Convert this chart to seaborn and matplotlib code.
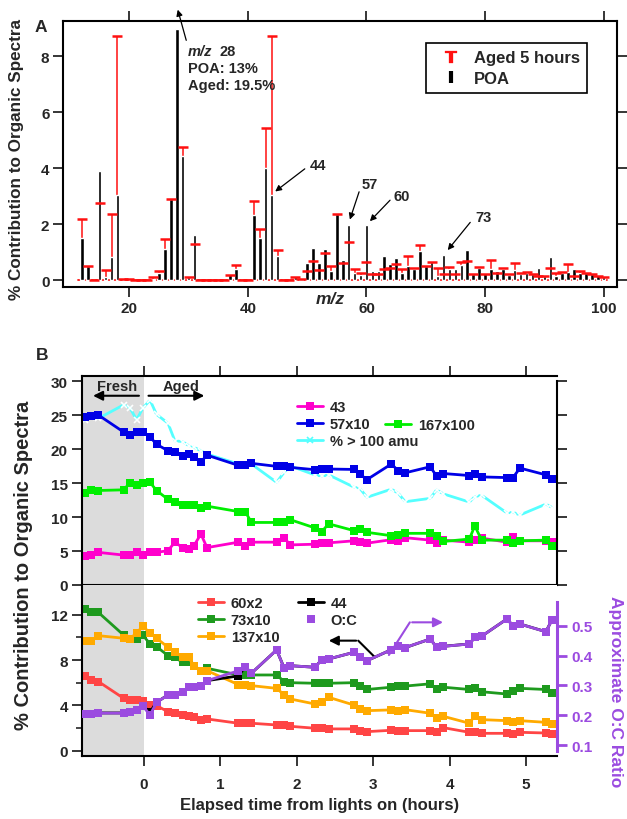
import numpy as np
import matplotlib
matplotlib.use('Agg')
import matplotlib.pyplot as plt
import seaborn as sns
from matplotlib.lines import Line2D

sns.set_theme(style='ticks')
plt.rcParams['font.family'] = ['Liberation Sans', 'DejaVu Sans']
plt.rcParams['font.weight'] = 'bold'
plt.rcParams['axes.labelweight'] = 'bold'

# ---------------- data: panel A (mass spectrum) ----------------
mz = list(range(12, 101))
poa = [1.5, 0.5, 0, 3.9, 0.1, 0.83, 3.04, 0, 0, 0, 0, 0, 0.05, 0.25, 1.1, 2.91, 8.96, 4.44, 0.1, 1.6,
       0, 0, 0, 0, 0, 0.21, 0.39, 0, 0, 2.32, 1.52, 4.0, 3.05, 0.87, 0, 0, 0.15, 0.05, 0.63, 1.14,
       0.61, 1.1, 0.33, 2.36, 0.73, 1.98, 0.27, 0.18, 1.98, 0.33, 0.33, 0.85, 0.57, 0.81, 0.27, 0.5,
       0.42, 1.03, 0.52, 0.64, 0.14, 0.89, 0.42, 0.39, 0.54, 1.08, 0.21, 0.45, 0.27, 0.39, 0.33, 0.39,
       0.18, 0.37, 0.21, 0.27, 0.21, 0.45, 0.15, 0.82, 0.15, 0.27, 0.3, 0.39, 0.27, 0.27, 0.21, 0.18, 0.1]
aged = [2.18, 0.5, 0, 2.75, 0.37, 2.36, 8.73, 0.05, 0.05, 0, 0, 0, 0.13, 0.33, 1.46, 2.91, np.nan, 4.76, 0.13, 1.29,
        0, 0, 0, 0, 0, 0.2, 0.55, 0, 0, 2.83, 1.82, 5.45, 8.73, 1.08, 0, 0, 0.1, 0.05, 0.33, 0.69,
        0.37, 0.99, 0.51, 2.36, 0.63, 1.37, 0.39, 0.25, 0.65, 0.21, 0.21, 0.39, 0.45, 0.57, 0.4, 0.87,
        0.45, 1.27, 0.5, 0.65, 0.45, 0.21, 0.48, 0.21, 0.65, 0.69, 0.21, 0.48, 0.21, 0.71, 0.27, 0.45,
        0.21, 0.6, 0.27, 0.3, 0.21, 0.15, 0.15, 0.45, 0.27, 0.3, 0.57, 0.15, 0.33, 0.25, 0.24, 0.15, 0.1]

# ---------------- data: panel B (time series) ----------------
t = [-0.77, -0.68, -0.59, -0.26, -0.18, -0.09, -0.01, 0.085, 0.17, 0.32, 0.41, 0.51, 0.59, 0.66,
     0.75, 0.83, 1.24, 1.33, 1.41, 1.74, 1.84, 1.92, 2.24, 2.33, 2.42, 2.75, 2.83, 2.92, 3.24, 3.33,
     3.42, 3.75, 3.83, 3.92, 4.26, 4.33, 4.42, 4.75, 4.83, 4.92, 5.26, 5.34]
m43 = [4.3, 4.4, 4.8, 4.4, 4.4, 4.8, 4.4, 4.8, 4.8, 5.05, 6.3, 5.5, 5.3, 5.8, 7.5, 5.5, 6.3, 5.8, 6.3,
       6.3, 6.9, 5.9, 6.0, 6.15, 6.2, 6.5, 6.3, 6.15, 6.67, 6.5, 6.96, 6.6, 6.15, 6.6, 6.3, 6.67, 6.9,
       6.3, 7.1, 6.5, 6.5, 6.3]
m57x10 = [24.7, 24.9, 25.0, 22.5, 22.0, 22.5, 22.5, 21.8, 20.7, 19.75, 19.5, 19.0, 19.26, 18.8, 18.1,
          19.1, 17.6, 17.6, 17.9, 17.45, 17.55, 17.3, 16.96, 17.06, 17.06, 17.0, 16.3, 15.5, 17.8, 16.8,
          16.5, 17.4, 16.0, 16.4, 16.1, 16.4, 15.9, 15.8, 15.8, 17.2, 16.2, 15.6]
m167x100 = [13.5, 14.0, 13.9, 14.0, 15.0, 14.7, 15.0, 15.1, 13.9, 12.6, 12.25, 11.8, 11.8, 11.8, 11.4,
            11.6, 10.8, 10.8, 9.2, 9.2, 9.2, 9.6, 8.4, 7.85, 9.0, 8.0, 8.3, 7.75, 7.25, 7.4, 7.6, 7.6,
            7.25, 6.4, 6.76, 8.7, 6.6, 6.6, 6.2, 6.5, 6.6, 5.8]
gt100 = [24.2, 24.65, 24.5, 26.5, 26.1, 24.3, 26.0, 27.2, 25.1, 23.8, 21.2, 21.1, 20.5, 20.25, 19.75,
         19.26, 17.8, 17.9, 17.8, 15.1, 16.6, 17.5, 16.2, 16.0, 16.2, 14.4, 14.2, 12.9, 14.1, 13.5,
         12.25, 12.75, 14.0, 13.4, 12.2, 13.0, 13.2, 10.6, 10.7, 10.3, 11.9, 11.4]
m60x2 = [6.57, 6.27, 6.1, 4.62, 4.5, 4.5, 4.41, 4.03, 3.97, 3.44, 3.33, 3.18, 3.09, 3.0, 2.74, 2.8,
         2.42, 2.42, 2.42, 2.27, 2.27, 2.15, 1.98, 2.03, 1.92, 1.92, 1.77, 1.68, 1.8, 1.77, 1.77, 1.77,
         1.62, 2.03, 1.62, 1.62, 1.53, 1.53, 1.47, 1.62, 1.56, 1.47]
m73x10 = [12.5, 12.2, 12.2, 10.2, 9.86, 9.86, 10.2, 9.42, 9.18, 8.39, 8.24, 7.8, 7.86, 7.5, 7.06, 7.27,
          6.68, 6.68, 6.68, 6.68, 6.09, 6.0, 5.95, 5.95, 5.95, 6.0, 5.7, 5.4, 5.6, 5.7, 5.7, 5.9, 5.4,
          5.6, 5.4, 5.55, 5.2, 5.0, 5.3, 5.5, 5.4, 5.1]
m137x10 = [9.7, 9.7, 10.15, 9.92, 9.86, 10.39, 10.98, 10.39, 9.92, 9.13, 8.74, 8.24, 8.24, 7.5, 7.06,
           7.06, 5.83, 5.83, 5.74, 5.5, 4.92, 4.56, 4.12, 4.27, 4.71, 4.03, 3.68, 3.53, 3.6, 3.53, 3.62,
           3.3, 2.86, 3.03, 2.42, 3.09, 2.74, 2.65, 2.5, 2.65, 2.5, 2.36]
m44 = [3.24, 3.24, 3.33, 3.33, 3.44, 3.59, 3.97, 3.4, 4.27, 4.92, 4.92, 5.21, 5.6, 5.6, 5.68, 6.18,
       6.6, 7.41, 6.83, 8.89, 7.27, 7.5, 7.36, 8.03, 8.09, 8.68, 8.24, 7.94, 8.91, 9.21, 9.09, 9.86,
       9.12, 9.21, 9.42, 10.0, 10.1, 11.62, 11.03, 11.18, 10.5, 11.56]
oc = [0.204, 0.204, 0.207, 0.207, 0.212, 0.217, 0.232, 0.2, 0.243, 0.268, 0.268, 0.279, 0.294, 0.294,
      0.297, 0.316, 0.349, 0.363, 0.341, 0.419, 0.357, 0.366, 0.361, 0.386, 0.389, 0.411, 0.394,
      0.383, 0.42, 0.431, 0.427, 0.456, 0.428, 0.431, 0.439, 0.461, 0.465, 0.523, 0.5, 0.506, 0.48, 0.52]

# ---------------- figure ----------------
W, H = 627, 820
fig = plt.figure(figsize=(W / 100, H / 100), dpi=100)


def fx(px):
    return px / W


def fy(py):
    return 1 - py / H


def box(l, t_, r, b):
    return [fx(l), fy(b), fx(r) - fx(l), fy(t_) - fy(b)]


RED = '#ff1010'
FS_TICK = 11

# ---------------- Panel A ----------------
axA = fig.add_axes(box(63.3, 21.7, 616.7, 288.3))
axA.set_facecolor('white')
axA.plot([11.4, 100.6], [0, 0], color=RED, lw=1.3, zorder=2)
axA.vlines(mz, 0, aged, color=RED, lw=1.1, zorder=2)
axA.bar(mz, poa, width=0.6, color='black', zorder=3)
axA.plot(mz, aged, ls='none', marker='_', ms=7, mew=1.8, color=RED, zorder=4)
axA.set_xlim(8.87, 102.2)
axA.set_ylim(-0.25, 9.26)
axA.set_xticks([20, 40, 60, 80, 100])
axA.set_yticks([0, 2, 4, 6, 8])
axA.tick_params(direction='out', length=7, width=1.3, top=True, right=True,
                labeltop=False, labelright=False, labelsize=FS_TICK, pad=3)
for s in axA.spines.values():
    s.set_linewidth(1.5)
    s.set_color('black')

# legend A
hA1 = Line2D([], [], ls='none', marker='$\\mathrm{T}$', color=RED, ms=9, mew=0.2)
hA2 = Line2D([], [], ls='none', marker='|', color='black', ms=8, mew=3)
legA = axA.legend([hA1, hA2], ['Aged 5 hours', 'POA'], loc='upper left',
                  bbox_to_anchor=(fx(426), fy(44)), bbox_transform=fig.transFigure,
                  frameon=True, fancybox=False, edgecolor='black', framealpha=1,
                  fontsize=12, handlelength=2.1, handletextpad=0.3, borderpad=0.45,
                  labelspacing=0.3, borderaxespad=0)
legA.get_frame().set_linewidth(1.2)


def mzc(px):
    return 20 + (px - 129.3) / 5.93


def vA(py):
    return (281 - py) / 28


arrowA = dict(arrowstyle='-|>', color='black', lw=0.9, mutation_scale=9)
axA.annotate('', xy=(mzc(177), vA(8)), xytext=(mzc(187), vA(44)), arrowprops=arrowA,
             annotation_clip=False)
axA.text(mzc(188), vA(52), 'm/z', style='italic', fontsize=10.5, va='center', ha='left')
axA.text(mzc(220), vA(52), '28', fontsize=10.5, va='center', ha='left')
axA.text(mzc(188), vA(69), 'POA: 13%', fontsize=10.5, va='center', ha='left')
axA.text(mzc(188), vA(86), 'Aged: 19.5%', fontsize=10.5, va='center', ha='left')
for lab, tx, ty, ax0, ay0, ax1, ay1 in [('44', 310, 166, 307, 168, 273, 194),
                                         ('57', 362, 185, 360, 190, 349, 223),
                                         ('60', 394, 197, 392, 199, 368, 224),
                                         ('73', 475, 218, 472, 221, 446, 253)]:
    axA.annotate('', xy=(mzc(ax1), vA(ay1)), xytext=(mzc(ax0), vA(ay0)), arrowprops=arrowA)
    axA.text(mzc(tx), vA(ty), lab, fontsize=10.5, va='center', ha='left')

fig.text(fx(330), fy(299), 'm/z', style='italic', fontsize=12.5, ha='center', va='center')
fig.text(fx(17), fy(160), '% Contribution to Organic Spectra', rotation=90, fontsize=12.3,
         ha='center', va='center')
fig.text(fx(35), fy(28), 'A', fontsize=12.5, ha='left', va='center')
fig.text(fx(36), fy(356), 'B', fontsize=12.5, ha='left', va='center')

# ---------------- Panel B top ----------------
XMIN, XMAX = -0.808, 5.405
axT = fig.add_axes(box(81.7, 377.3, 557, 586))
axT.axvspan(XMIN, 0, color='#dcdcdc', lw=0, zorder=0)
line_kw = dict(estimator=None, sort=False, legend=False, linewidth=2, markersize=5.5)
sns.lineplot(x=t, y=m43, ax=axT, color='#ff00cc', marker='s', markeredgewidth=0, **line_kw)
sns.lineplot(x=t, y=m167x100, ax=axT, color='#00ee00', marker='s', markeredgewidth=0, **line_kw)
sns.lineplot(x=t, y=gt100, ax=axT, color='#55ffff', marker='x', markeredgewidth=1.2,
             estimator=None, sort=False, legend=False, linewidth=2, markersize=4)
sns.lineplot(x=t, y=m57x10, ax=axT, color='#0000e6', marker='s', markeredgewidth=0, **line_kw)
axT.set_xlim(XMIN, XMAX)
axT.set_ylim(0, 30.7)
axT.set_yticks([0, 5, 10, 15, 20, 25, 30])
axT.set_xticks([0, 1, 2, 3, 4, 5])
axT.tick_params(direction='out', length=7, width=1.3, top=True, right=True, bottom=True,
                labeltop=False, labelright=False, labelbottom=False, labelsize=FS_TICK, pad=3)
axT.set_xlabel('')
axT.set_ylabel('')
for s in axT.spines.values():
    s.set_linewidth(1.5)
    s.set_color('black')
axT.spines['right'].set_bounds(0, 30)


def tB(px):
    return (px - 143.3) / 76.6


def vT(py):
    return (586 - py) / 6.8


arrowB = dict(arrowstyle='-|>', color='black', lw=1.5, mutation_scale=14)
axT.annotate('', xy=(tB(90), vT(396.7)), xytext=(tB(141.5), vT(396.7)), arrowprops=arrowB)
axT.annotate('', xy=(tB(207), vT(396.7)), xytext=(tB(145.5), vT(396.7)), arrowprops=arrowB)
axT.text(tB(117), vT(386.5), 'Fresh', fontsize=10.5, ha='center', va='center')
axT.text(tB(181), vT(386.5), 'Aged', fontsize=10.5, ha='center', va='center')

leg_kw = dict(frameon=False, fontsize=10.5, handlelength=1.8, handletextpad=0.45, borderpad=0,
              labelspacing=0.2, borderaxespad=0, loc='upper left', bbox_transform=fig.transFigure)
hT = [Line2D([], [], color='#ff00cc', lw=2, marker='s', ms=6, mew=0),
      Line2D([], [], color='#0000e6', lw=2, marker='s', ms=6, mew=0),
      Line2D([], [], color='#55ffff', lw=2, marker='x', ms=5, mew=1.2)]
leg1 = axT.legend(hT, ['43', '57x10', '% > 100 amu'], bbox_to_anchor=(fx(296.7), fy(401.5)), **leg_kw)
axT.add_artist(leg1)
hT2 = [Line2D([], [], color='#00ee00', lw=2, marker='s', ms=6, mew=0)]
axT.legend(hT2, ['167x100'], bbox_to_anchor=(fx(385), fy(419.5)), **leg_kw)

# ---------------- Panel B bottom ----------------
axB = fig.add_axes(box(81.7, 586, 557, 757))
axB.axvspan(XMIN, 0, color='#dcdcdc', lw=0, zorder=0)
sns.lineplot(x=t, y=m60x2, ax=axB, color='#ff4545', marker='s', markeredgewidth=0, **line_kw)
sns.lineplot(x=t, y=m73x10, ax=axB, color='#1e9a1e', marker='s', markeredgewidth=0, **line_kw)
sns.lineplot(x=t, y=m137x10, ax=axB, color='#ffaa00', marker='s', markeredgewidth=0, **line_kw)
sns.lineplot(x=t, y=m44, ax=axB, color='black', marker='s', markeredgewidth=0, **line_kw)
axB.set_xlim(XMIN, XMAX)
axB.set_ylim(-0.47, 14.62)
axB.set_yticks([0, 4, 8, 12])
axB.set_yticks([2, 6, 10], minor=True)
axB.set_xticks([0, 1, 2, 3, 4, 5])
axB.tick_params(direction='out', length=7, width=1.3, labelsize=FS_TICK, pad=3)
axB.tick_params(axis='x', pad=8)
axB.tick_params(which='minor', direction='out', length=4, width=1.2, left=True)
axB.set_xlabel('')
axB.set_ylabel('')
axB.spines['top'].set_visible(False)
axB.spines['right'].set_visible(False)
for k in ['left', 'bottom']:
    axB.spines[k].set_linewidth(1.5)
    axB.spines[k].set_color('black')

PURPLE = '#9b4be0'
axR = axB.twinx()
sns.lineplot(x=t, y=oc, ax=axR, color=PURPLE, marker='s', markeredgewidth=0, **line_kw)
axR.set_ylim(0.0631, 0.637)
axR.set_yticks([0.1, 0.2, 0.3, 0.4, 0.5])
axR.set_yticklabels(['0.1', '0.2', '0.3', '0.4', '0.5'])
axR.tick_params(axis='y', direction='out', length=7, width=2, colors=PURPLE,
                labelsize=FS_TICK, pad=3)
axR.set_ylabel('')
for k in ['left', 'bottom', 'top']:
    axR.spines[k].set_visible(False)
axR.spines['right'].set_color(PURPLE)
axR.spines['right'].set_linewidth(2.2)
axR.spines['right'].set_bounds(0.08, 0.58)
axR.grid(False)


def vB(py):
    return (751.7 - py) / 11.33


def ocB(py):
    return 0.1 + (746 - py) / 298


# black arrow (44 -> left axis)
axB.plot([tB(375), tB(358.3)], [vB(658.3), vB(641.7)], color='black', lw=1.5)
axB.annotate('', xy=(tB(326), vB(641.7)), xytext=(tB(359), vB(641.7)), arrowprops=arrowB)
# purple arrow (O:C -> right axis)
axR.plot([tB(389), tB(410)], [ocB(656), ocB(623.3)], color=PURPLE, lw=1.5)
axR.annotate('', xy=(tB(446), ocB(623.3)), xytext=(tB(409.5), ocB(623.3)),
             arrowprops=dict(arrowstyle='-|>', color=PURPLE, lw=1.5, mutation_scale=14))

hB1 = [Line2D([], [], color='#ff4545', lw=2, marker='s', ms=6, mew=0),
       Line2D([], [], color='#1e9a1e', lw=2, marker='s', ms=6, mew=0),
       Line2D([], [], color='#ffaa00', lw=2, marker='s', ms=6, mew=0)]
leg3 = axR.legend(hB1, ['60x2', '73x10', '137x10'], bbox_to_anchor=(fx(198), fy(597.5)), **leg_kw)
axR.add_artist(leg3)
hB2 = [Line2D([], [], color='black', lw=2, marker='s', ms=6, mew=0),
       Line2D([], [], color=PURPLE, lw=0, marker='s', ms=6, mew=0)]
axR.legend(hB2, ['44', 'O:C'], bbox_to_anchor=(fx(298), fy(597.5)), **leg_kw)

fig.text(fx(320), fy(806), 'Elapsed time from lights on (hours)', fontsize=12, ha='center', va='center')
fig.text(fx(24), fy(565), '% Contribution to Organic Spectra', rotation=90, fontsize=14.5,
         ha='center', va='center')
fig.text(fx(615), fy(692), 'Approximate O:C Ratio', rotation=270, fontsize=12.5, color=PURPLE,
         ha='center', va='center')

fig.savefig('out.png', dpi=100)
